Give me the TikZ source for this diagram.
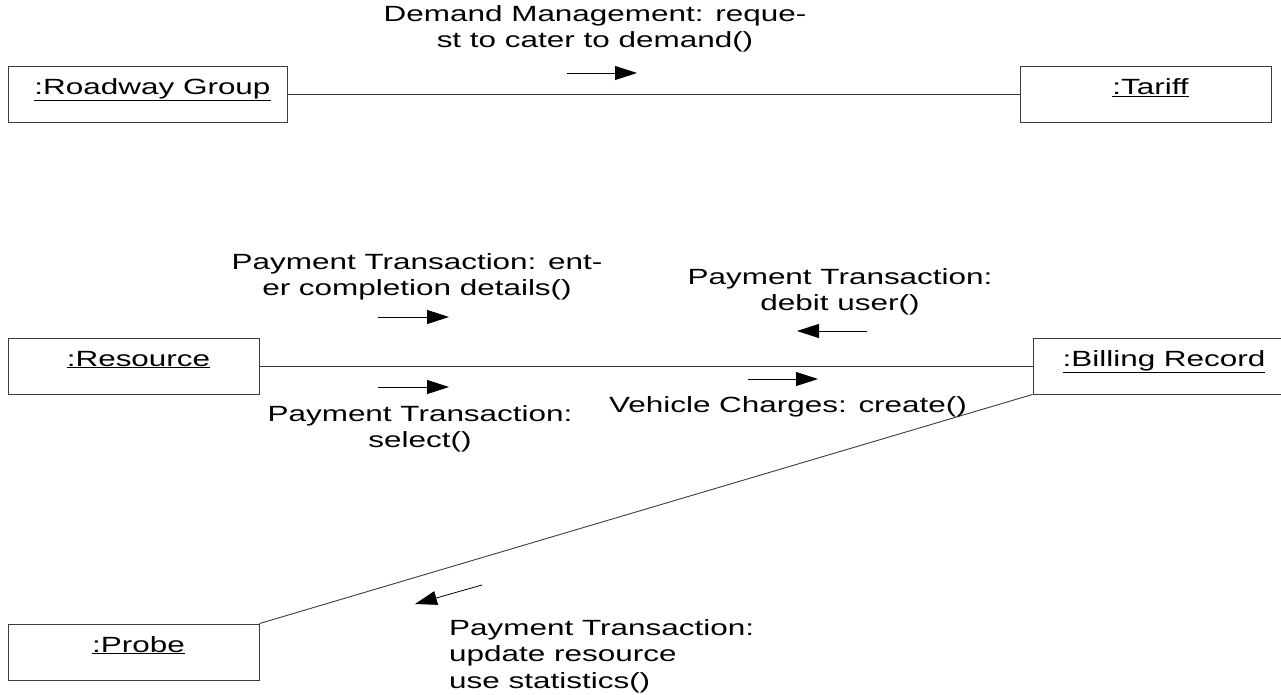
\documentclass[tikz,border=0pt]{standalone}
\usepackage{fontspec}
\setmainfont{Liberation Sans}[FakeStretch=1.43]
\usepackage{tikz}
\usetikzlibrary{arrows.meta,positioning}
\definecolor{umlLine}{RGB}{60,60,60}

\begin{document}
\begin{tikzpicture}[x=1pt,y=-1pt,font=\fontsize{22}{26.5}\selectfont,
  objbox/.style={draw=umlLine, line width=0.9pt, inner sep=0pt, minimum height=56pt, text height=28pt, text depth=28pt, execute at begin node=\hspace*{10pt}},
  msgtext/.style={inner sep=0pt, align=center},
  msgarrow/.style={black, line width=0.8pt, -{Triangle[length=22pt,width=14pt]}}]
\useasboundingbox (0,0) rectangle (1281,694);

\node[objbox, minimum width=279pt] (roadway) at (147.5,94.5) {\underline{:Roadway Group}};
\node[objbox, minimum width=251pt] (tariff) at (1145.5,94.5) {\underline{:Tariff}};
\node[objbox, minimum width=251pt] (resource) at (133.5,366) {\underline{:Resource}};
\node[objbox, minimum width=252pt] (billing) at (1159,366) {\underline{:Billing Record}};
\node[objbox, minimum width=251pt] (probe) at (133.5,652) {\underline{:Probe}};

\draw[umlLine, line width=0.9pt] (roadway) -- (tariff);
\draw[umlLine, line width=0.9pt] (resource) -- (billing);
\draw[umlLine, line width=0.9pt] (billing.south west) -- (probe.north east);

\node[msgtext] (demand) at (595,29) {Demand Management: reque-\\st to cater to demand()};
\node[msgtext] (enter) at (417,277) {Payment Transaction: ent-\\er completion details()};
\node[msgtext] (select) at (420,429) {Payment Transaction:\\select()};
\node[msgtext] (debit) at (840,292) {Payment Transaction:\\debit user()};
\node[msgtext] (create) at (788,407) {Vehicle Charges: create()};
\node[msgtext, align=left, anchor=west] (update) at (449,656) {Payment Transaction:\\update resource\\use statistics()};

\coordinate (dm1) at (567,73);   \coordinate (dm2) at (637,73);
\coordinate (en1) at (378,317);  \coordinate (en2) at (449,317);
\coordinate (se1) at (378,387);  \coordinate (se2) at (449,387);
\coordinate (db1) at (867,331);  \coordinate (db2) at (797,331);
\coordinate (cr1) at (748,379);  \coordinate (cr2) at (818,379);
\coordinate (up1) at (482,585);  \coordinate (up2) at (415,604);

\draw[msgarrow] (dm1) -- (dm2);
\draw[msgarrow] (en1) -- (en2);
\draw[msgarrow] (se1) -- (se2);
\draw[msgarrow] (db1) -- (db2);
\draw[msgarrow] (cr1) -- (cr2);
\draw[msgarrow] (up1) -- (up2);
\end{tikzpicture}
\end{document}
